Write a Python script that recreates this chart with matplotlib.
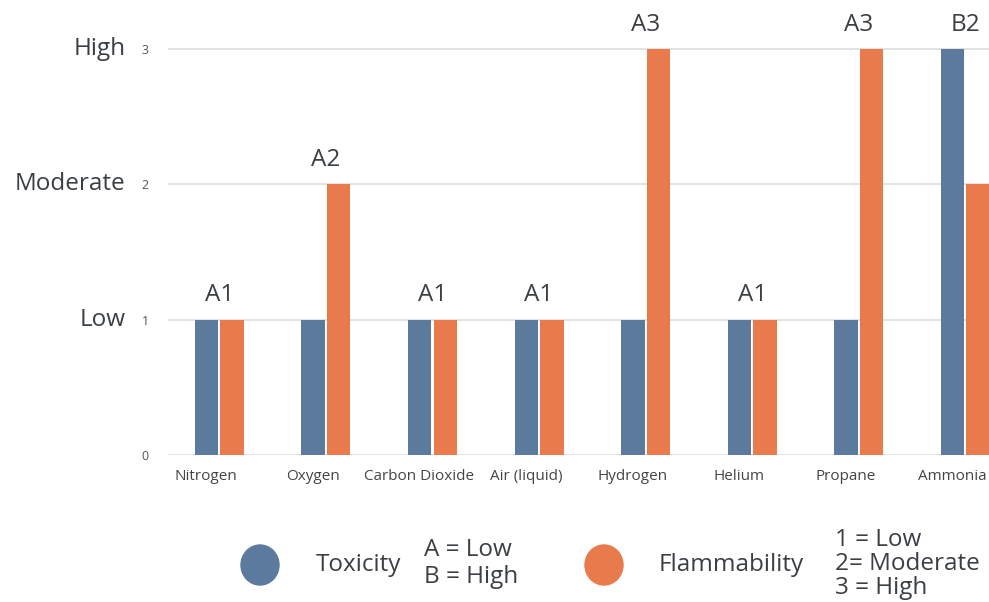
import matplotlib
matplotlib.use('Agg')
import matplotlib.pyplot as plt
from matplotlib.patches import Ellipse
from matplotlib.transforms import ScaledTranslation
import numpy as np

plt.rcParams['font.family'] = ['Open Sans', 'DejaVu Sans']

# 数据
gases = ['Nitrogen', 'Oxygen', 'Carbon Dioxide', 'Air (liquid)',
         'Hydrogen', 'Helium', 'Propane', 'Ammonia']
toxicity = [1, 1, 1, 1, 1, 1, 1, 3]
flammability = [1, 2, 1, 1, 3, 1, 3, 2]
safety_class = ['A1', 'A2', 'A1', 'A1', 'A3', 'A1', 'A3', 'B2']
level_names = ['Low', 'Moderate', 'High']
level_values = [1, 2, 3]

blue = '#5b7a9e'
orange = '#e97a4c'
text_color = '#3a3f44'
big = 17.5

fig = plt.figure(figsize=(9.89, 6.02), dpi=100)
ax = fig.add_axes([0.17, 0.244, 0.86, 0.742])

x = np.arange(len(gases))
w = 0.22
ax.bar(x - 0.12, toxicity, width=w, color=blue, zorder=3)
ax.bar(x + 0.12, flammability, width=w, color=orange, zorder=3)

# 分类标签
for i, label in enumerate(safety_class):
    top = max(toxicity[i], flammability[i])
    ax.text(x[i], top + 0.18, label, ha='center', va='center',
            fontsize=big, color=text_color)

ax.set_xlim(-0.48, 7.5)
ax.set_ylim(0, 3.3)
ax.set_yticks([0, 1, 2, 3])
ax.set_yticklabels(['0', '1', '2', '3'], fontsize=9, color='#555555')
ax.set_xticks(x)
ax.set_xticklabels(gases, fontsize=11, color='#444444')
ax.tick_params(axis='both', length=0)
ax.tick_params(axis='y', pad=14)
ax.tick_params(axis='x', pad=10)
ax.grid(axis='y', color='#dddddd', linewidth=1.2, zorder=0)
for s in ax.spines.values():
    s.set_visible(False)

# 气体名称整体往左挪一点
shift = ScaledTranslation(-13 / 100, 0, fig.dpi_scale_trans)
for lab in ax.get_xticklabels():
    lab.set_transform(lab.get_transform() + shift)

# 左侧等级文字
for v, name in zip(level_values, level_names):
    ax.text(-0.05, v, name, ha='right', va='center', fontsize=big,
            color=text_color, transform=ax.get_yaxis_transform())

# 图例
lg = fig.add_axes([0, 0, 1, 1])
lg.set_xlim(0, 989)
lg.set_ylim(602, 0)
lg.axis('off')
lg.add_patch(Ellipse((260, 565), 38, 40, color=blue))
lg.add_patch(Ellipse((604, 565), 38, 40, color=orange))
lg.text(316, 565, 'Toxicity', fontsize=big, va='center', color=text_color)
lg.text(424, 550, 'A = Low', fontsize=big, va='center', color=text_color)
lg.text(424, 577, 'B = High', fontsize=big, va='center', color=text_color)
lg.text(659, 565, 'Flammability', fontsize=big, va='center', color=text_color)
lg.text(835, 540, '1 = Low', fontsize=big, va='center', color=text_color)
lg.text(835, 564, '2= Moderate', fontsize=big, va='center', color=text_color)
lg.text(835, 588, '3 = High', fontsize=big, va='center', color=text_color)

plt.savefig('out.png', dpi=100)
